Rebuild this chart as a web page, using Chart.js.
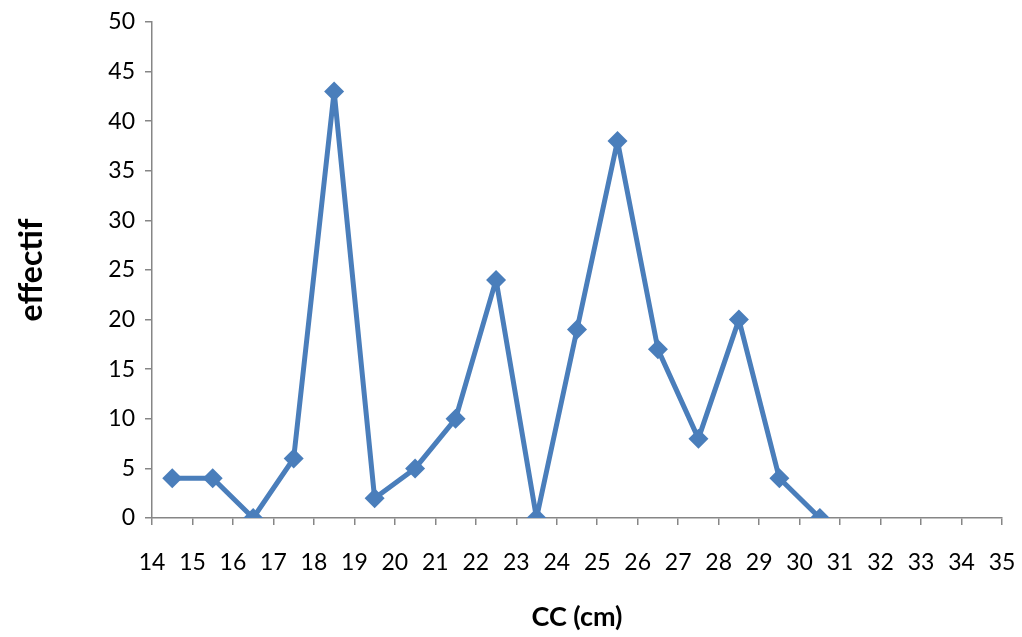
<!DOCTYPE html>
<html>
<head>
<meta charset="utf-8">
<script src="https://cdn.jsdelivr.net/npm/chart.js@4/dist/chart.umd.min.js"></script>
<style>
    body { margin: 0; background: #fff; }
    canvas { display: block; }
</style>
</head>
<body>
<canvas id="cc-chart" width="1022" height="637"></canvas>
<script>
// classes de CC (centre de classe) et effectifs
const classCenters = [14.5, 15.5, 16.5, 17.5, 18.5, 19.5, 20.5, 21.5, 22.5, 23.5, 24.5, 25.5, 26.5, 27.5, 28.5, 29.5, 30.5];
const counts = [4, 4, 0, 6, 43, 2, 5, 10, 24, 0, 19, 38, 17, 8, 20, 4, 0];
const xMin = 14;
const xMax = 35;
const yMax = 50;

const axisGrey = '#868686';
const lineBlue = '#4A7EBB';

document.addEventListener('DOMContentLoaded', () => {
    const ctx = document.getElementById('cc-chart').getContext('2d');
    const points = classCenters.map((x, i) => ({ x: x, y: counts[i] }));

    new Chart(ctx, {
        type: 'line',
        data: {
            datasets: [{
                label: 'effectif',
                data: points,
                borderColor: lineBlue,
                backgroundColor: lineBlue,
                borderWidth: 5,
                borderJoinStyle: 'round',
                pointStyle: 'rectRot',
                pointRadius: 10,
                pointBorderWidth: 0,
                tension: 0,
            }],
        },
        options: {
            responsive: false,
            animation: false,
            layout: {
                padding: { left: 0, right: 20, top: 22, bottom: 0 },
            },
            plugins: {
                legend: { display: false },
                tooltip: { enabled: false },
            },
            scales: {
                x: {
                    type: 'linear',
                    min: xMin,
                    max: xMax,
                    grid: {
                        drawOnChartArea: false,
                        drawTicks: true,
                        tickLength: 7,
                        color: axisGrey,
                        lineWidth: 1.5,
                    },
                    border: { color: axisGrey, width: 1.5 },
                    ticks: {
                        stepSize: 1,
                        autoSkip: false,
                        maxRotation: 0,
                        padding: 24,
                        color: '#000',
                        font: { family: 'Lato', size: 23 },
                    },
                    title: {
                        display: true,
                        text: 'CC (cm)',
                        color: '#000',
                        font: { family: 'Lato', size: 27, weight: 'bold' },
                    },
                    afterFit: (scale) => {
                        scale.height = 637 - 518;
                        scale.paddingLeft = 0;
                        scale.paddingRight = 0;
                    },
                },
                y: {
                    min: 0,
                    max: yMax,
                    grid: {
                        drawOnChartArea: false,
                        drawTicks: true,
                        tickLength: 7,
                        color: axisGrey,
                        lineWidth: 1.5,
                    },
                    border: { color: axisGrey, width: 1.5 },
                    ticks: {
                        stepSize: 5,
                        padding: 10,
                        color: '#000',
                        font: { family: 'Lato', size: 23 },
                    },
                    title: {
                        display: true,
                        text: 'effectif',
                        color: '#000',
                        padding: { top: 12, bottom: 0 },
                        font: { family: 'Lato', size: 32, weight: 'bold' },
                    },
                    afterFit: (scale) => {
                        scale.width = 152;
                        scale.paddingTop = 0;
                        scale.paddingBottom = 0;
                    },
                },
            },
        },
    });
});
</script>
</body>
</html>
